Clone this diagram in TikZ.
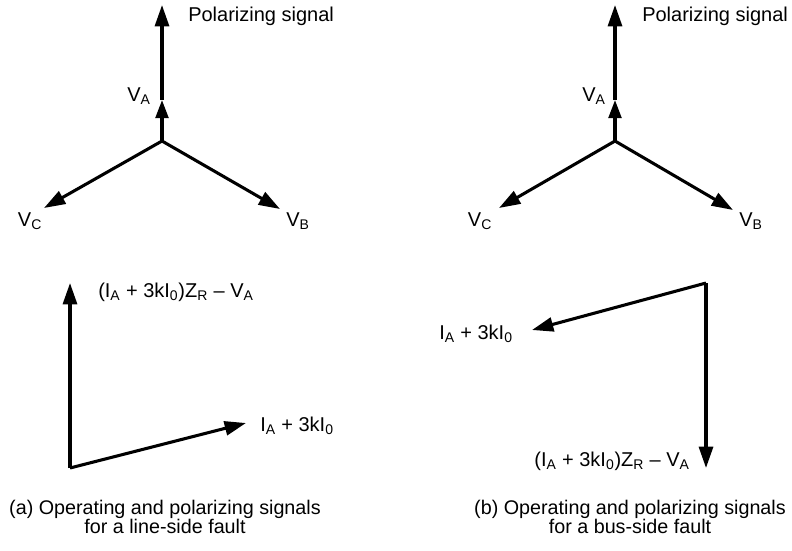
\documentclass[tikz,border=0pt]{standalone}
\usepackage{fontspec}
\setmainfont{Liberation Sans}
\usetikzlibrary{arrows.meta}
\tikzset{
  vec/.style={line width=2.3pt, -{Triangle[length=16pt,width=10.5pt]}},
  midvec/.style={line width=2.3pt, -{Triangle[length=13.5pt,width=9.5pt]}},
  lbl/.style={font=\fontsize{15}{17}\selectfont, inner sep=0pt},
  captext/.style={font=\fontsize{14.8}{14.5}\selectfont, align=center, inner sep=0pt},
}
\newcommand{\opsig}{(I\textsubscript{A} + 3kI\textsubscript{0})Z\textsubscript{R} -- V\textsubscript{A}}
\newcommand{\cursig}{I\textsubscript{A} + 3kI\textsubscript{0}}
\begin{document}
\begin{tikzpicture}[x=0.75pt,y=-0.75pt]
\useasboundingbox (0,0) rectangle (792,550);
% (a) line-side fault
\coordinate (Oa) at (162,141);
\coordinate (VAa) at (162,5);
\coordinate (VAma) at (162,100);
\coordinate (VBa) at (280,209);
\coordinate (VCa) at (44,208);
\draw[midvec] (Oa) -- (VAma);
\draw[vec] (VAma) -- (VAa);
\draw[vec] (Oa) -- (VBa);
\draw[vec] (Oa) -- (VCa);
\node[lbl, anchor=west] (pola) at (188,16) {Polarizing signal};
\node[lbl] (la) at (139,96) {V\textsubscript{A}};
\node[lbl] (lb) at (298,221) {V\textsubscript{B}};
\node[lbl] (lc) at (30,221) {V\textsubscript{C}};
\coordinate (Pa) at (70,468);
\coordinate (Ua) at (70,283);
\coordinate (Ia) at (246,423);
\draw[vec] (Pa) -- (Ua);
\draw[vec] (Pa) -- (Ia);
\node[lbl, anchor=west] (opa) at (98,292) {\opsig};
\node[lbl, anchor=west] (cua) at (260,426) {\cursig};
\node[captext] (capa) at (165,517) {(a) Operating and polarizing signals\\for a line-side fault};
% (b) bus-side fault
\coordinate (Ob) at (615,141);
\coordinate (VAb) at (615,5);
\coordinate (VAmb) at (615,100);
\coordinate (VBb) at (733,210);
\coordinate (VCb) at (499,208);
\draw[midvec] (Ob) -- (VAmb);
\draw[vec] (VAmb) -- (VAb);
\draw[vec] (Ob) -- (VBb);
\draw[vec] (Ob) -- (VCb);
\node[lbl, anchor=west] (polb) at (642,16) {Polarizing signal};
\node[lbl] (lab) at (594,96) {V\textsubscript{A}};
\node[lbl] (lbb) at (751,221) {V\textsubscript{B}};
\node[lbl] (lcb) at (480,221) {V\textsubscript{C}};
\coordinate (Pb) at (706,283);
\coordinate (Db) at (706,468);
\coordinate (Ib) at (532,330);
\draw[vec] (Pb) -- (Db);
\draw[vec] (Pb) -- (Ib);
\node[lbl, anchor=east] (opb) at (690,461) {\opsig};
\node[lbl, anchor=east] (cub) at (513,334) {\cursig};
\node[captext] (capb) at (630,517) {(b) Operating and polarizing signals\\for a bus-side fault};
\end{tikzpicture}
\end{document}
